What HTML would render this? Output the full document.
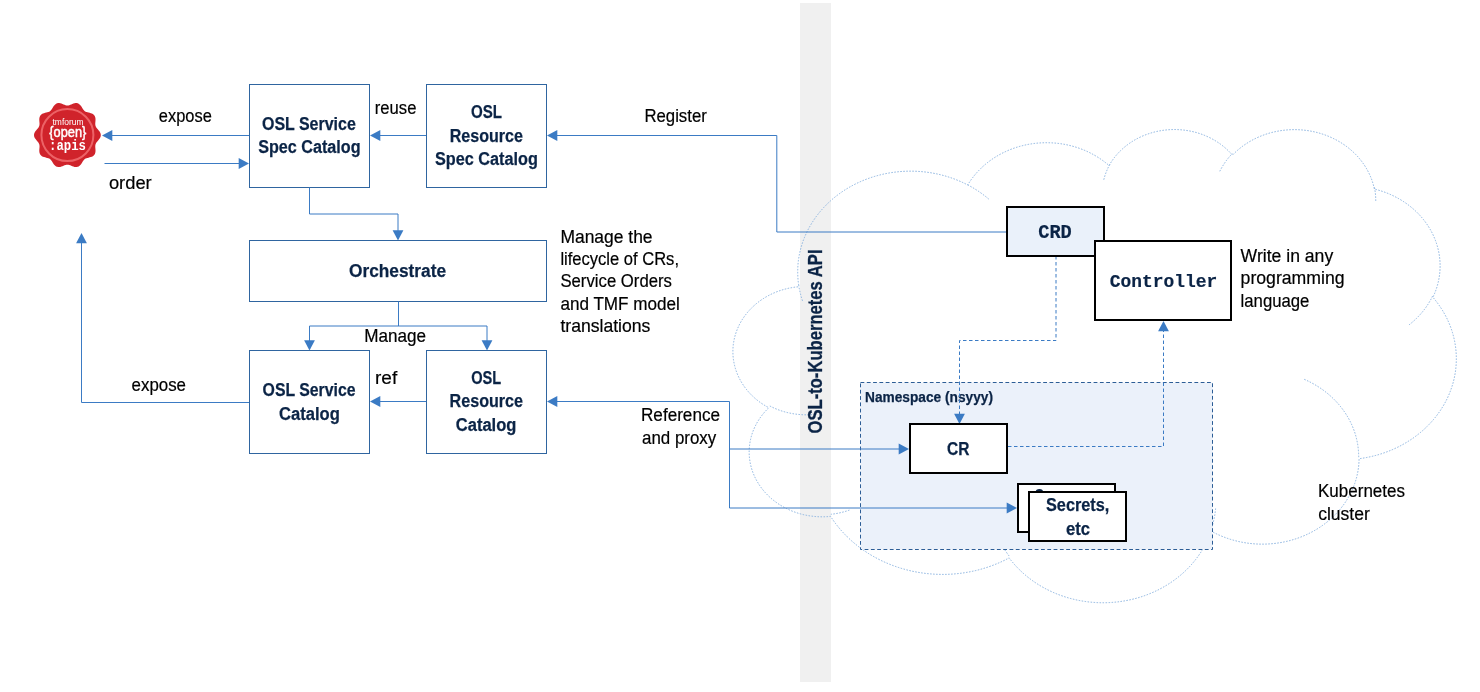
<!DOCTYPE html>
<html><head><meta charset="utf-8"><style>
html,body{margin:0;padding:0;background:#fff;width:1480px;height:692px;overflow:hidden}
svg{display:block;will-change:transform}
</style></head><body>
<svg width="1480" height="692" viewBox="0 0 1480 692">
<rect width="1480" height="692" fill="#fff"/>
<rect x="800" y="3" width="31" height="679" fill="#f0f0f0"/>
<path d="M798.73 285.34 A112.94 100.62 0 0 1 967.73 184.96 A89.19 79.57 0 0 1 1109.07 165.58 A73.00 65.09 0 0 1 1232.44 155.16 A81.23 72.21 0 0 1 1374.35 189.05 A89.19 79.63 0 0 1 1432.89 297.27 A113.31 100.95 0 0 1 1359.07 458.70 A96.75 86.14 0 0 1 1211.09 531.07 A112.92 100.90 0 0 1 1009.13 557.91 A129.11 115.44 0 0 1 830.58 516.36 A72.92 64.80 0 0 1 768.85 407.73 A72.67 65.09 0 0 1 798.12 286.81 Z" fill="none" stroke="#8ab3e0" stroke-width="1" stroke-dasharray="1.5 1.5"/>
<path d="M811.99 414.61 A72.67 65.09 0 0 1 769.62 405.89 M849.37 510.11 A72.92 64.80 0 0 1 830.83 514.29 M1009.09 556.00 A112.92 100.90 0 0 1 997.92 536.95 M1215.62 508.49 A112.92 100.90 0 0 1 1211.16 529.40 M1304.29 379.33 A96.75 86.14 0 0 1 1358.67 457.45 M1432.55 296.11 A89.19 79.63 0 0 1 1408.41 325.36 M1374.45 187.41 A81.23 72.21 0 0 1 1375.73 201.25 M1219.82 171.27 A81.23 72.21 0 0 1 1232.22 153.63 M1103.80 179.68 A73.00 65.09 0 0 1 1109.81 164.46 M967.64 184.85 A112.94 100.62 0 0 1 989.38 199.61 M802.52 300.87 A112.94 100.62 0 0 1 798.73 285.34" fill="none" stroke="#8ab3e0" stroke-width="1" stroke-dasharray="1.5 1.5"/>
<rect x="860.5" y="382.5" width="352.0" height="167.0" fill="#ebf1fa" stroke="#2c5d96" stroke-width="1" stroke-dasharray="3.8 2.5"/>
<text transform="translate(821.5,433.5) rotate(-90)" x="0" y="0" font-size="21" font-weight="bold" fill="#0b2446" stroke="#0b2446" stroke-width="0.3" font-family='"Liberation Sans", sans-serif' textLength="184" lengthAdjust="spacingAndGlyphs">OSL-to-Kubernetes API</text>
<polygon points="100.80,135.10 100.69,136.15 100.37,137.17 99.87,138.17 99.23,139.12 98.51,140.03 97.77,140.89 97.05,141.73 96.42,142.55 95.91,143.38 95.55,144.25 95.34,145.16 95.26,146.13 95.28,147.17 95.37,148.26 95.47,149.40 95.52,150.56 95.47,151.70 95.29,152.80 94.95,153.82 94.42,154.73 93.72,155.51 92.86,156.16 91.87,156.67 90.79,157.07 89.67,157.37 88.56,157.63 87.49,157.89 86.50,158.19 85.60,158.56 84.80,159.05 84.09,159.66 83.45,160.40 82.87,161.25 82.29,162.19 81.70,163.17 81.06,164.13 80.35,165.03 79.56,165.82 78.68,166.44 77.72,166.87 76.69,167.08 75.62,167.10 74.52,166.93 73.41,166.62 72.33,166.21 71.27,165.77 70.26,165.35 69.28,165.00 68.33,164.78 67.40,164.70 66.47,164.78 65.52,165.00 64.54,165.35 63.53,165.77 62.47,166.21 61.39,166.62 60.28,166.93 59.18,167.10 58.11,167.08 57.08,166.87 56.12,166.44 55.24,165.82 54.45,165.03 53.74,164.13 53.10,163.17 52.51,162.19 51.93,161.25 51.35,160.40 50.71,159.66 50.00,159.05 49.20,158.56 48.30,158.19 47.31,157.89 46.24,157.63 45.13,157.37 44.01,157.07 42.93,156.67 41.94,156.16 41.08,155.51 40.38,154.73 39.85,153.82 39.51,152.80 39.33,151.70 39.28,150.56 39.33,149.40 39.43,148.26 39.52,147.17 39.54,146.13 39.46,145.16 39.25,144.25 38.89,143.38 38.38,142.55 37.75,141.73 37.03,140.89 36.29,140.03 35.57,139.12 34.93,138.17 34.43,137.17 34.11,136.15 34.00,135.10 34.11,134.05 34.43,133.03 34.93,132.03 35.57,131.08 36.29,130.17 37.03,129.31 37.75,128.47 38.38,127.65 38.89,126.82 39.25,125.95 39.46,125.04 39.54,124.07 39.52,123.03 39.43,121.94 39.33,120.80 39.28,119.64 39.33,118.50 39.51,117.40 39.85,116.38 40.38,115.47 41.08,114.69 41.94,114.04 42.93,113.53 44.01,113.13 45.13,112.83 46.24,112.57 47.31,112.31 48.30,112.01 49.20,111.64 50.00,111.15 50.71,110.54 51.35,109.80 51.93,108.95 52.51,108.01 53.10,107.03 53.74,106.07 54.45,105.17 55.24,104.38 56.12,103.76 57.08,103.33 58.11,103.12 59.18,103.10 60.28,103.27 61.39,103.58 62.47,103.99 63.53,104.43 64.54,104.85 65.52,105.20 66.47,105.42 67.40,105.50 68.33,105.42 69.28,105.20 70.26,104.85 71.27,104.43 72.33,103.99 73.41,103.58 74.52,103.27 75.62,103.10 76.69,103.12 77.72,103.33 78.68,103.76 79.56,104.38 80.35,105.17 81.06,106.07 81.70,107.03 82.29,108.01 82.87,108.95 83.45,109.80 84.09,110.54 84.80,111.15 85.60,111.64 86.50,112.01 87.49,112.31 88.56,112.57 89.67,112.83 90.79,113.13 91.87,113.53 92.86,114.04 93.72,114.69 94.42,115.47 94.95,116.38 95.29,117.40 95.47,118.50 95.52,119.64 95.47,120.80 95.37,121.94 95.28,123.03 95.26,124.07 95.34,125.04 95.55,125.95 95.91,126.82 96.42,127.65 97.05,128.47 97.77,129.31 98.51,130.17 99.23,131.08 99.87,132.03 100.37,133.03 100.69,134.05" fill="#d0232b"/><circle cx="67.4" cy="135.1" r="26" fill="none" stroke="#ec6266" stroke-width="2"/>
<text x="68" y="124.5" font-size="9.5" fill="#fff" text-anchor="middle" font-family='"Liberation Sans", sans-serif' textLength="31" lengthAdjust="spacingAndGlyphs">tmforum</text>
<text x="67.8" y="136.6" font-size="14" fill="#fff" stroke="#fff" stroke-width="0.45" text-anchor="middle" font-family='"Liberation Sans", sans-serif' textLength="37" lengthAdjust="spacingAndGlyphs">{open}</text>
<text x="67.5" y="149.5" font-size="14" font-weight="bold" fill="#fff" text-anchor="middle" font-family='"Liberation Mono", monospace' textLength="37" lengthAdjust="spacingAndGlyphs">:apis</text>
<polyline points="249.0,135.5 110.0,135.5" fill="none" stroke="#3b7bc4" stroke-width="1" />
<polygon points="102.0,135.5 112.3,130.1 112.3,140.9" fill="#3b7bc4"/>
<polyline points="104.5,163.5 240.0,163.5" fill="none" stroke="#3b7bc4" stroke-width="1" />
<polygon points="249.0,163.5 238.7,158.1 238.7,168.9" fill="#3b7bc4"/>
<text x="158.8" y="122.0" font-size="18.67" font-weight="normal" fill="#000" font-family='"Liberation Sans", sans-serif' textLength="53.0" lengthAdjust="spacingAndGlyphs" stroke="#000" stroke-width="0.2">expose</text>
<text x="108.9" y="188.8" font-size="18.67" font-weight="normal" fill="#000" font-family='"Liberation Sans", sans-serif' textLength="42.8" lengthAdjust="spacingAndGlyphs" stroke="#000" stroke-width="0.2">order</text>
<rect x="249.5" y="84.5" width="120.0" height="103.0" fill="#fff" stroke="#2f65a0" stroke-width="1" />
<rect x="426.5" y="84.5" width="120.0" height="103.0" fill="#fff" stroke="#2f65a0" stroke-width="1" />
<text x="262.0" y="129.6" font-size="18.67" font-weight="bold" fill="#0b2446" font-family='"Liberation Sans", sans-serif' textLength="93.8" lengthAdjust="spacingAndGlyphs" stroke="#0b2446" stroke-width="0.25">OSL Service</text>
<text x="258.2" y="153.0" font-size="18.67" font-weight="bold" fill="#0b2446" font-family='"Liberation Sans", sans-serif' textLength="102.4" lengthAdjust="spacingAndGlyphs" stroke="#0b2446" stroke-width="0.25">Spec Catalog</text>
<text x="471.0" y="117.5" font-size="18.67" font-weight="bold" fill="#0b2446" font-family='"Liberation Sans", sans-serif' textLength="31.0" lengthAdjust="spacingAndGlyphs" stroke="#0b2446" stroke-width="0.25">OSL</text>
<text x="449.7" y="141.7" font-size="18.67" font-weight="bold" fill="#0b2446" font-family='"Liberation Sans", sans-serif' textLength="73.2" lengthAdjust="spacingAndGlyphs" stroke="#0b2446" stroke-width="0.25">Resource</text>
<text x="435.0" y="164.8" font-size="18.67" font-weight="bold" fill="#0b2446" font-family='"Liberation Sans", sans-serif' textLength="102.8" lengthAdjust="spacingAndGlyphs" stroke="#0b2446" stroke-width="0.25">Spec Catalog</text>
<polyline points="426.0,135.5 378.0,135.5" fill="none" stroke="#3b7bc4" stroke-width="1" />
<polygon points="370.0,135.5 380.3,130.1 380.3,140.9" fill="#3b7bc4"/>
<text x="374.8" y="113.9" font-size="18.67" font-weight="normal" fill="#000" font-family='"Liberation Sans", sans-serif' textLength="41.6" lengthAdjust="spacingAndGlyphs" stroke="#000" stroke-width="0.2">reuse</text>
<polyline points="1006.0,232.0 776.8,232.0 776.8,135.5 556.0,135.5" fill="none" stroke="#3b7bc4" stroke-width="1" />
<polygon points="547.0,135.5 557.3,130.1 557.3,140.9" fill="#3b7bc4"/>
<text x="644.4" y="121.7" font-size="18.67" font-weight="normal" fill="#000" font-family='"Liberation Sans", sans-serif' textLength="62.4" lengthAdjust="spacingAndGlyphs" stroke="#000" stroke-width="0.2">Register</text>
<polyline points="309.5,187.5 309.5,214.0 398.0,214.0 398.0,231.0" fill="none" stroke="#3b7bc4" stroke-width="1" />
<polygon points="398.0,240.5 392.6,230.2 403.4,230.2" fill="#3b7bc4"/>
<rect x="249.5" y="240.5" width="297.0" height="61.0" fill="#fff" stroke="#2f65a0" stroke-width="1" />
<text x="349.0" y="276.8" font-size="18.67" font-weight="bold" fill="#0b2446" font-family='"Liberation Sans", sans-serif' textLength="97.0" lengthAdjust="spacingAndGlyphs" stroke="#0b2446" stroke-width="0.25">Orchestrate</text>
<text x="560.4" y="242.5" font-size="18.67" font-weight="normal" fill="#000" font-family='"Liberation Sans", sans-serif' textLength="92.2" lengthAdjust="spacingAndGlyphs" stroke="#000" stroke-width="0.2">Manage the</text>
<text x="560.4" y="265.4" font-size="18.67" font-weight="normal" fill="#000" font-family='"Liberation Sans", sans-serif' textLength="118.6" lengthAdjust="spacingAndGlyphs" stroke="#000" stroke-width="0.2">lifecycle of CRs,</text>
<text x="560.4" y="287.3" font-size="18.67" font-weight="normal" fill="#000" font-family='"Liberation Sans", sans-serif' textLength="111.6" lengthAdjust="spacingAndGlyphs" stroke="#000" stroke-width="0.2">Service Orders</text>
<text x="560.4" y="310.1" font-size="18.67" font-weight="normal" fill="#000" font-family='"Liberation Sans", sans-serif' textLength="119.5" lengthAdjust="spacingAndGlyphs" stroke="#000" stroke-width="0.2">and TMF model</text>
<text x="560.4" y="331.8" font-size="18.67" font-weight="normal" fill="#000" font-family='"Liberation Sans", sans-serif' textLength="90.0" lengthAdjust="spacingAndGlyphs" stroke="#000" stroke-width="0.2">translations</text>
<polyline points="398.5,301.5 398.5,326.0" fill="none" stroke="#3b7bc4" stroke-width="1" />
<polyline points="309.5,341.0 309.5,326.0 487.0,326.0 487.0,341.0" fill="none" stroke="#3b7bc4" stroke-width="1" />
<polygon points="309.5,350.5 304.1,340.2 314.9,340.2" fill="#3b7bc4"/>
<polygon points="487.0,350.5 481.6,340.2 492.4,340.2" fill="#3b7bc4"/>
<text x="364.2" y="341.8" font-size="18.67" font-weight="normal" fill="#000" font-family='"Liberation Sans", sans-serif' textLength="61.8" lengthAdjust="spacingAndGlyphs" stroke="#000" stroke-width="0.2">Manage</text>
<rect x="249.5" y="350.5" width="120.0" height="103.0" fill="#fff" stroke="#2f65a0" stroke-width="1" />
<rect x="426.5" y="350.5" width="120.0" height="103.0" fill="#fff" stroke="#2f65a0" stroke-width="1" />
<text x="262.6" y="395.8" font-size="18.67" font-weight="bold" fill="#0b2446" font-family='"Liberation Sans", sans-serif' textLength="93.0" lengthAdjust="spacingAndGlyphs" stroke="#0b2446" stroke-width="0.25">OSL Service</text>
<text x="279.0" y="419.6" font-size="18.67" font-weight="bold" fill="#0b2446" font-family='"Liberation Sans", sans-serif' textLength="60.8" lengthAdjust="spacingAndGlyphs" stroke="#0b2446" stroke-width="0.25">Catalog</text>
<text x="471.2" y="383.6" font-size="18.67" font-weight="bold" fill="#0b2446" font-family='"Liberation Sans", sans-serif' textLength="30.0" lengthAdjust="spacingAndGlyphs" stroke="#0b2446" stroke-width="0.25">OSL</text>
<text x="449.6" y="407.2" font-size="18.67" font-weight="bold" fill="#0b2446" font-family='"Liberation Sans", sans-serif' textLength="73.4" lengthAdjust="spacingAndGlyphs" stroke="#0b2446" stroke-width="0.25">Resource</text>
<text x="455.8" y="431.4" font-size="18.67" font-weight="bold" fill="#0b2446" font-family='"Liberation Sans", sans-serif' textLength="60.6" lengthAdjust="spacingAndGlyphs" stroke="#0b2446" stroke-width="0.25">Catalog</text>
<polyline points="426.0,401.5 378.0,401.5" fill="none" stroke="#3b7bc4" stroke-width="1" />
<polygon points="370.0,401.5 380.3,396.1 380.3,406.9" fill="#3b7bc4"/>
<text x="375.0" y="383.6" font-size="18.67" font-weight="normal" fill="#000" font-family='"Liberation Sans", sans-serif' textLength="22.2" lengthAdjust="spacingAndGlyphs" stroke="#000" stroke-width="0.2">ref</text>
<polyline points="249.0,402.5 81.5,402.5 81.5,243.0" fill="none" stroke="#3b7bc4" stroke-width="1" />
<polygon points="81.5,233.0 76.1,243.3 86.9,243.3" fill="#3b7bc4"/>
<text x="131.6" y="391.0" font-size="18.67" font-weight="normal" fill="#000" font-family='"Liberation Sans", sans-serif' textLength="54.4" lengthAdjust="spacingAndGlyphs" stroke="#000" stroke-width="0.2">expose</text>
<polyline points="556.0,401.5 729.5,401.5 729.5,508.0 1007.0,508.0" fill="none" stroke="#3b7bc4" stroke-width="1" />
<polygon points="547.0,401.5 557.3,396.1 557.3,406.9" fill="#3b7bc4"/>
<polyline points="729.5,449.0 900.0,449.0" fill="none" stroke="#3b7bc4" stroke-width="1" />
<text x="641.0" y="420.7" font-size="18.67" font-weight="normal" fill="#000" font-family='"Liberation Sans", sans-serif' textLength="79.0" lengthAdjust="spacingAndGlyphs" stroke="#000" stroke-width="0.2">Reference</text>
<text x="642.0" y="443.5" font-size="18.67" font-weight="normal" fill="#000" font-family='"Liberation Sans", sans-serif' textLength="74.2" lengthAdjust="spacingAndGlyphs" stroke="#000" stroke-width="0.2">and proxy</text>
<text x="865.0" y="401.8" font-size="14.00" font-weight="bold" fill="#0b2446" font-family='"Liberation Sans", sans-serif' textLength="128.0" lengthAdjust="spacingAndGlyphs" stroke="#0b2446" stroke-width="0.25">Namespace (nsyyy)</text>
<polygon points="909.0,449.0 898.7,443.6 898.7,454.4" fill="#3b7bc4"/>
<polygon points="1017.0,508.0 1006.7,502.6 1006.7,513.4" fill="#3b7bc4"/>
<polyline points="1056.0,256.0 1056.0,340.5 959.5,340.5 959.5,414.0" fill="none" stroke="#3b7bc4" stroke-width="1" stroke-dasharray="3.5 2.5"/>
<polygon points="959.5,424.0 954.1,413.7 964.9,413.7" fill="#3b7bc4"/>
<polyline points="1008.0,446.5 1163.5,446.5 1163.5,331.0" fill="none" stroke="#3b7bc4" stroke-width="1" stroke-dasharray="3.5 2.5"/>
<polygon points="1163.5,321.0 1158.1,331.3 1168.9,331.3" fill="#3b7bc4"/>
<rect x="910.0" y="424.0" width="97.0" height="49.0" fill="#fff" stroke="#000" stroke-width="2" />
<text x="947.0" y="454.7" font-size="18.67" font-weight="bold" fill="#0b2446" font-family='"Liberation Sans", sans-serif' textLength="22.4" lengthAdjust="spacingAndGlyphs" stroke="#0b2446" stroke-width="0.25">CR</text>
<rect x="1018.0" y="484.0" width="97.0" height="48.0" fill="#fff" stroke="#000" stroke-width="2" />
<ellipse cx="1039.4" cy="491.5" rx="3.6" ry="2.6" fill="#0b2446"/>
<rect x="1029.0" y="492.0" width="97.0" height="49.0" fill="#fff" stroke="#000" stroke-width="2" />
<text x="1046.0" y="511.0" font-size="18.67" font-weight="bold" fill="#0b2446" font-family='"Liberation Sans", sans-serif' textLength="63.3" lengthAdjust="spacingAndGlyphs" stroke="#0b2446" stroke-width="0.25">Secrets,</text>
<text x="1066.0" y="534.5" font-size="18.67" font-weight="bold" fill="#0b2446" font-family='"Liberation Sans", sans-serif' textLength="24.0" lengthAdjust="spacingAndGlyphs" stroke="#0b2446" stroke-width="0.25">etc</text>
<rect x="1007.0" y="207.0" width="97.0" height="49.0" fill="#eaf1fa" stroke="#000" stroke-width="2" />
<text x="1038.2" y="237.9" font-size="20.00" font-weight="bold" fill="#0b2446" font-family='"Liberation Mono", monospace' textLength="33.6" lengthAdjust="spacingAndGlyphs" stroke="#0b2446" stroke-width="0.2">CRD</text>
<rect x="1095.0" y="241.0" width="136.0" height="79.0" fill="#fff" stroke="#000" stroke-width="2" />
<text x="1109.8" y="287.0" font-size="17.50" font-weight="bold" fill="#0b2446" font-family='"Liberation Mono", monospace' textLength="107.4" lengthAdjust="spacingAndGlyphs" stroke="#0b2446" stroke-width="0.2">Controller</text>
<text x="1240.6" y="261.8" font-size="18.67" font-weight="normal" fill="#000" font-family='"Liberation Sans", sans-serif' textLength="92.6" lengthAdjust="spacingAndGlyphs" stroke="#000" stroke-width="0.2">Write in any</text>
<text x="1240.6" y="284.3" font-size="18.67" font-weight="normal" fill="#000" font-family='"Liberation Sans", sans-serif' textLength="104.0" lengthAdjust="spacingAndGlyphs" stroke="#000" stroke-width="0.2">programming</text>
<text x="1240.6" y="306.8" font-size="18.67" font-weight="normal" fill="#000" font-family='"Liberation Sans", sans-serif' textLength="68.8" lengthAdjust="spacingAndGlyphs" stroke="#000" stroke-width="0.2">language</text>
<text x="1318.0" y="496.7" font-size="18.67" font-weight="normal" fill="#000" font-family='"Liberation Sans", sans-serif' textLength="87.0" lengthAdjust="spacingAndGlyphs" stroke="#000" stroke-width="0.2">Kubernetes</text>
<text x="1318.2" y="519.6" font-size="18.67" font-weight="normal" fill="#000" font-family='"Liberation Sans", sans-serif' textLength="51.6" lengthAdjust="spacingAndGlyphs" stroke="#000" stroke-width="0.2">cluster</text>
</svg></body></html>
